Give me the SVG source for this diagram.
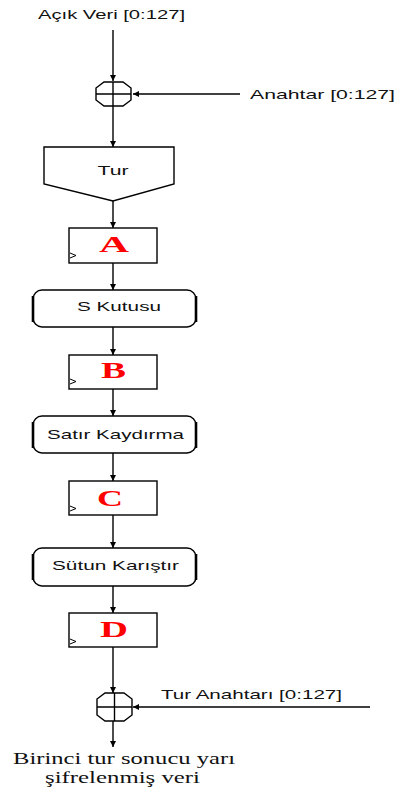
<svg xmlns="http://www.w3.org/2000/svg" width="397" height="790" viewBox="0 0 397 790">
  <defs>
    <marker id="arrow" markerWidth="7" markerHeight="7" refX="6" refY="3.5" orient="auto" markerUnits="userSpaceOnUse">
      <path d="M0,0.5 L6,3.5 L0,6.5 Z" fill="#000"/>
    </marker>
    <style>
      .line { stroke: #000; stroke-width: 1.4; fill: none; }
      .box { stroke: #000; stroke-width: 1.4; fill: #fff; }
      .bar { stroke: #000; stroke-width: 2.6; fill: none; }
      .lbl { font-family: "Liberation Sans", Arial, sans-serif; font-size: 13px; fill: #111; }
      .reg { font-family: "Liberation Serif", "Times New Roman", serif; font-weight: bold; font-size: 24px; fill: #ff0000; }
      .out { font-family: "Liberation Serif", "Times New Roman", serif; font-size: 17px; fill: #111; }
      .clk { stroke: #000; stroke-width: 1; fill: none; }
    </style>
  </defs>
  <rect width="397" height="790" fill="#fff"/>

  <!-- connectors -->
  <g id="connectors">
    <line class="line" x1="113" y1="30" x2="113" y2="81" marker-end="url(#arrow)"/>
    <line class="line" x1="240" y1="94" x2="133" y2="94" marker-end="url(#arrow)"/>
    <line class="line" x1="113" y1="106" x2="113" y2="147" marker-end="url(#arrow)"/>
    <line class="line" x1="113" y1="201" x2="113" y2="228" marker-end="url(#arrow)"/>
    <line class="line" x1="113" y1="263" x2="113" y2="290" marker-end="url(#arrow)"/>
    <line class="line" x1="113" y1="327" x2="113" y2="355" marker-end="url(#arrow)"/>
    <line class="line" x1="113" y1="389" x2="113" y2="416" marker-end="url(#arrow)"/>
    <line class="line" x1="113" y1="453" x2="113" y2="481" marker-end="url(#arrow)"/>
    <line class="line" x1="113" y1="515" x2="113" y2="548" marker-end="url(#arrow)"/>
    <line class="line" x1="113" y1="586" x2="113" y2="613" marker-end="url(#arrow)"/>
    <line class="line" x1="113" y1="647" x2="113" y2="693" marker-end="url(#arrow)"/>
    <line class="line" x1="370" y1="707" x2="133" y2="707" marker-end="url(#arrow)"/>
    <line class="line" x1="113" y1="721" x2="113" y2="747" marker-end="url(#arrow)"/>
  </g>

  <!-- inputs -->
  <g id="plaintext">
    <text class="lbl" x="38" y="19" textLength="147" lengthAdjust="spacingAndGlyphs">Açık Veri [0:127]</text>
  </g>
  <g id="key">
    <text class="lbl" x="250" y="99" textLength="145" lengthAdjust="spacingAndGlyphs">Anahtar [0:127]</text>
  </g>

  <!-- first XOR -->
  <g id="xor1">
    <polygon class="box" points="104,82 123,82 131,88 131,100 123,106 104,106 96,100 96,88"/>
    <line class="line" x1="96" y1="94" x2="131" y2="94"/>
    <line class="line" x1="113" y1="82" x2="113" y2="106"/>
  </g>

  <!-- round block -->
  <g id="tur">
    <path class="box" d="M44,147 L174,147 L174,184 L113,201 L44,184 Z"/>
    <text class="lbl" x="113" y="175" text-anchor="middle" textLength="31" lengthAdjust="spacingAndGlyphs">Tur</text>
  </g>

  <!-- register A -->
  <g id="regA">
    <rect class="box" x="69" y="228" width="88" height="35"/>
    <polyline class="clk" points="70,253 76,255.5 70,258"/>
    <text class="reg" x="114" y="252" text-anchor="middle" textLength="30" lengthAdjust="spacingAndGlyphs">A</text>
  </g>

  <!-- S box -->
  <g id="sbox">
    <rect class="box" x="33" y="290" width="163" height="37" rx="9" ry="9"/>
    <line class="bar" x1="33" y1="296" x2="33" y2="322"/>
    <line class="bar" x1="196" y1="296" x2="196" y2="322"/>
    <text class="lbl" x="77" y="311" textLength="84" lengthAdjust="spacingAndGlyphs">S Kutusu</text>
  </g>

  <!-- register B -->
  <g id="regB">
    <rect class="box" x="69" y="355" width="88" height="34"/>
    <polyline class="clk" points="70,379 76,381.5 70,384"/>
    <text class="reg" x="113.5" y="378" text-anchor="middle" textLength="25" lengthAdjust="spacingAndGlyphs">B</text>
  </g>

  <!-- shift rows -->
  <g id="shiftrows">
    <rect class="box" x="33" y="416" width="163" height="37" rx="9" ry="9"/>
    <line class="bar" x1="33" y1="422" x2="33" y2="448"/>
    <line class="bar" x1="196" y1="422" x2="196" y2="448"/>
    <text class="lbl" x="47" y="439" textLength="137" lengthAdjust="spacingAndGlyphs">Satır Kaydırma</text>
  </g>

  <!-- register C -->
  <g id="regC">
    <rect class="box" x="69" y="481" width="88" height="34"/>
    <polyline class="clk" points="70,506 76,508.5 70,511"/>
    <text class="reg" x="110" y="506" text-anchor="middle" textLength="26" lengthAdjust="spacingAndGlyphs">C</text>
  </g>

  <!-- mix columns -->
  <g id="mixcolumns">
    <rect class="box" x="33" y="548" width="163" height="38" rx="9" ry="9"/>
    <line class="bar" x1="33" y1="554" x2="33" y2="580"/>
    <line class="bar" x1="196" y1="554" x2="196" y2="580"/>
    <text class="lbl" x="52" y="570" textLength="127" lengthAdjust="spacingAndGlyphs">Sütun Karıştır</text>
  </g>

  <!-- register D -->
  <g id="regD">
    <rect class="box" x="69" y="613" width="88" height="34"/>
    <polyline class="clk" points="70,639 76,641.5 70,644"/>
    <text class="reg" x="114" y="637" text-anchor="middle" textLength="28" lengthAdjust="spacingAndGlyphs">D</text>
  </g>

  <!-- round key and second XOR -->
  <g id="roundkey">
    <text class="lbl" x="161" y="699" textLength="181" lengthAdjust="spacingAndGlyphs">Tur Anahtarı [0:127]</text>
  </g>
  <g id="xor2">
    <polygon class="box" points="105,693 124,693 132,699 132,715 124,721 105,721 97,715 97,699"/>
    <line class="line" x1="97" y1="707" x2="132" y2="707"/>
    <line class="line" x1="114.5" y1="693" x2="114.5" y2="721"/>
  </g>

  <!-- output -->
  <g id="output">
    <text class="out" x="13" y="764" textLength="222" lengthAdjust="spacingAndGlyphs">Birinci tur sonucu yarı</text>
    <text class="out" x="45" y="783" textLength="155" lengthAdjust="spacingAndGlyphs">şifrelenmiş veri</text>
  </g>
</svg>
